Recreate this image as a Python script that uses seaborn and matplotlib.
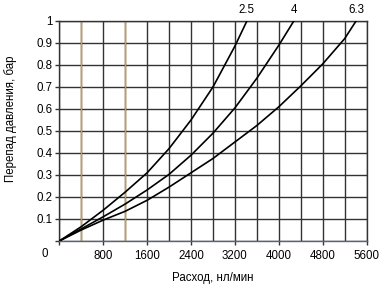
import matplotlib
matplotlib.use("Agg")
import matplotlib.pyplot as plt
import seaborn as sns
import pandas as pd
from matplotlib.ticker import MultipleLocator

# Data
flow_25 = [0, 400, 800, 1200, 1600, 2000, 2400, 2800, 3200, 3418]
dp_25 = [0, 0.065, 0.14, 0.222, 0.31, 0.42, 0.55, 0.70, 0.886, 1.0]

flow_4 = [0, 400, 800, 1200, 1600, 2000, 2400, 2800, 3200, 3600, 4000, 4273]
dp_4 = [0, 0.055, 0.11, 0.168, 0.232, 0.303, 0.39, 0.49, 0.605, 0.74, 0.89, 1.0]

flow_63 = [0, 400, 800, 1200, 1600, 2000, 2400, 2800, 3200, 3600, 4000, 4400, 4800, 5200, 5407]
dp_63 = [0, 0.05, 0.095, 0.135, 0.185, 0.245, 0.31, 0.375, 0.45, 0.525, 0.61, 0.705, 0.805, 0.92, 1.0]

series_names = ["2.5", "4", "6.3"]
marker_lines = [400, 1200]
x_ticks = [0, 800, 1600, 2400, 3200, 4000, 4800, 5600]
x_tick_labels = ["", "800", "1600", "2400", "3200", "4000", "4800", "5600"]
y_ticks = [0, 0.1, 0.2, 0.3, 0.4, 0.5, 0.6, 0.7, 0.8, 0.9, 1.0]
y_tick_labels = ["", "0.1", "0.2", "0.3", "0.4", "0.5", "0.6", "0.7", "0.8", "0.9", "1"]

frames = []
for name, fx, fy in zip(series_names, [flow_25, flow_4, flow_63], [dp_25, dp_4, dp_63]):
    frames.append(pd.DataFrame({"flow": fx, "dp": fy, "series": name}))
df = pd.concat(frames, ignore_index=True)

sns.set_theme(style="white")
plt.rcParams["font.family"] = ["Liberation Sans", "DejaVu Sans"]

FS = 8.3
fig = plt.figure(figsize=(3.88, 2.90), dpi=100)
ax = fig.add_axes([0.1528, 0.169, 0.7922, 0.7586])

grid_c = "#333333"
ax.set_xlim(0, 5600)
ax.set_ylim(0, 1)

ax.xaxis.set_minor_locator(MultipleLocator(400))
ax.grid(True, which="both", axis="x", color=grid_c, linewidth=1.0)
ax.grid(True, which="major", axis="y", color=grid_c, linewidth=1.0)
ax.set_axisbelow(True)

for xv in marker_lines:
    ax.axvline(xv, color="#d49a40", linewidth=1.0, zorder=1.5)

sns.lineplot(data=df, x="flow", y="dp", hue="series", palette=["black"] * 3,
             linewidth=1.2, legend=False, ax=ax, zorder=3, sort=False)

for name, fx in zip(series_names, [flow_25, flow_4, flow_63]):
    ax.text(fx[-1], 1.05, name, ha="center", va="center", fontsize=FS,
            color="black", clip_on=False)

ax.set_xticks(x_ticks)
ax.set_xticklabels(x_tick_labels)
ax.set_yticks(y_ticks)
ax.set_yticklabels(y_tick_labels)
ax.tick_params(axis="x", which="major", bottom=True, length=3, width=1.0,
               color=grid_c, pad=3.5, labelsize=FS, labelcolor="black")
ax.tick_params(axis="x", which="minor", bottom=False)
ax.tick_params(axis="y", which="major", left=True, length=3, width=1.0,
               color=grid_c, pad=2.0, labelsize=FS, labelcolor="black")

ax.text(-0.0465, -0.059, "0", transform=ax.transAxes, ha="center", va="center",
        fontsize=FS, color="black")

for side in ["top", "right", "left"]:
    ax.spines[side].set_visible(True)
    ax.spines[side].set_color(grid_c)
    ax.spines[side].set_linewidth(1.0)
ax.spines["bottom"].set_color("#5a6478")
ax.spines["bottom"].set_linewidth(1.0)

ax.set_xlabel("Расход, нл/мин", fontsize=FS, color="black")
ax.set_ylabel("Перепад давления, бар", fontsize=FS, color="black")
ax.xaxis.set_label_coords(0.5, -0.168)
ax.yaxis.set_label_coords(-0.157, 0.555)
ax.xaxis.label.set_va("center")
ax.yaxis.label.set_va("center")

fig.savefig("out.png", dpi=100)
